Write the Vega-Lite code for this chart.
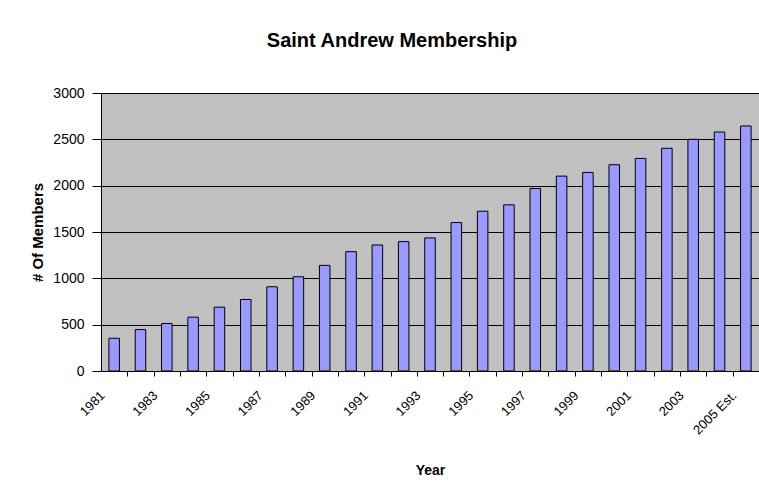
{
  "$schema": "https://vega.github.io/schema/vega-lite/v6.json",
  "width": 658,
  "height": 278,
  "autosize": "none",
  "padding": {"left": 101, "top": 93, "right": 0, "bottom": 122},
  "background": "white",
  "title": {
    "text": "Saint Andrew Membership",
    "font": "Liberation Sans",
    "fontSize": 20,
    "fontWeight": "bold",
    "color": "black",
    "anchor": "middle",
    "dx": -38,
    "offset": 35
  },
  "data": {
    "values": [
      {"year": "1981", "members": 353},
      {"year": "1982", "members": 447},
      {"year": "1983", "members": 512},
      {"year": "1984", "members": 581},
      {"year": "1985", "members": 689},
      {"year": "1986", "members": 772},
      {"year": "1987", "members": 909},
      {"year": "1988", "members": 1017},
      {"year": "1989", "members": 1140},
      {"year": "1990", "members": 1288},
      {"year": "1991", "members": 1360},
      {"year": "1992", "members": 1396},
      {"year": "1993", "members": 1436},
      {"year": "1994", "members": 1602},
      {"year": "1995", "members": 1724},
      {"year": "1996", "members": 1793},
      {"year": "1997", "members": 1970},
      {"year": "1998", "members": 2103},
      {"year": "1999", "members": 2143},
      {"year": "2000", "members": 2226},
      {"year": "2001", "members": 2294},
      {"year": "2002", "members": 2403},
      {"year": "2003", "members": 2500},
      {"year": "2004", "members": 2579},
      {"year": "2005 Est.", "members": 2644}
    ]
  },
  "mark": {"type": "bar", "fill": "#9999FF", "stroke": "#000000", "strokeWidth": 1},
  "encoding": {
    "x": {
      "field": "year",
      "type": "nominal",
      "sort": null,
      "scale": {"paddingInner": 0.6, "paddingOuter": 0.3},
      "axis": {
        "title": "Year",
        "tickOffset": 13.16,
        "labelOffset": -25,
        "labelAngle": -45,
        "labelAlign": "right",
        "labelBaseline": "middle",
        "labelExpr": "datum.value == '2005 Est.' || toNumber(datum.value) % 2 == 1 ? datum.label : ''",
        "labelFont": "Liberation Sans",
        "labelFontSize": 13,
        "labelColor": "black",
        "labelPadding": 17,
        "tickColor": "black",
        "tickSize": 5,
        "domainColor": "black",
        "titleFont": "Liberation Sans",
        "titleFontSize": 14,
        "titleFontWeight": "bold",
        "titleColor": "black",
        "titlePadding": 27,
        "grid": false
      }
    },
    "y": {
      "field": "members",
      "type": "quantitative",
      "scale": {"domain": [0, 3000], "nice": false},
      "axis": {
        "title": "# Of Members",
        "values": [0, 500, 1000, 1500, 2000, 2500, 3000],
        "format": "d",
        "labelFont": "Liberation Sans",
        "labelFontSize": 14,
        "labelColor": "black",
        "labelPadding": 8,
        "tickColor": "black",
        "tickSize": 9,
        "domainColor": "black",
        "grid": true,
        "gridColor": "black",
        "gridOpacity": 1,
        "gridWidth": 1,
        "titleFont": "Liberation Sans",
        "titleFontSize": 15,
        "titleFontWeight": "bold",
        "titleColor": "black",
        "titlePadding": 7
      }
    }
  },
  "config": {
    "view": {"fill": "#C0C0C0", "stroke": "#808080", "strokeWidth": 1}
  }
}
